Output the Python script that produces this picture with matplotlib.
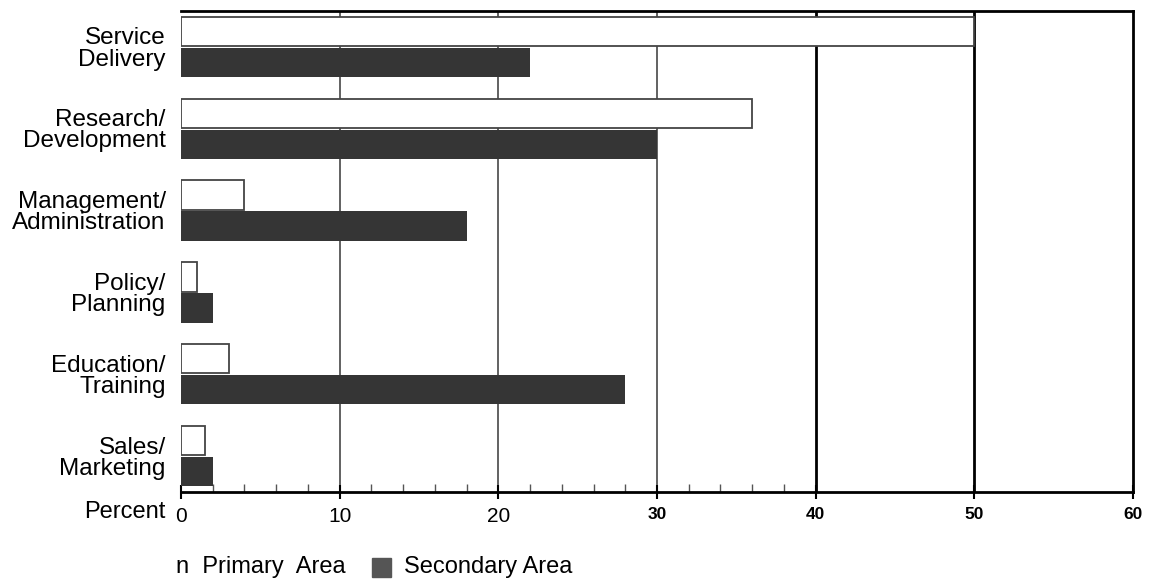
import matplotlib
matplotlib.use('Agg')
from matplotlib import pyplot as plt
from matplotlib.patches import Rectangle
import numpy as np

categories = ['Service\nDelivery', 'Research/\nDevelopment', 'Management/\nAdministration',
              'Policy/\nPlanning', 'Education/\nTraining', 'Sales/\nMarketing']
primary = [50, 36, 4, 1, 3, 1.5]
secondary = [22, 30, 18, 2, 28, 2]
x_ticks = [0, 10, 20, 30, 40, 50, 60]
x_labels = ['0', '10', '20', '30', '40', '50', '60']

plt.rcParams['font.family'] = ['Liberation Sans', 'DejaVu Sans']

fig = plt.figure(figsize=(11.52, 5.85), dpi=100)
ax = fig.add_axes([181 / 1152, 1 - 492 / 585, (1133 - 181) / 1152, (492 - 11) / 585])

y = np.arange(len(categories))
h = 0.36
off = 0.19

# grid lines first so the bars sit over them
for v in [10, 20, 30]:
    ax.axvline(v, color='#555555', lw=1.3, zorder=1)
for v in [40, 50]:
    ax.axvline(v, color='black', lw=2, zorder=1)

ax.barh(y - off, primary, height=h, color='white', edgecolor='#444444', lw=1.3, zorder=2,
        label='Primary Area')
ax.barh(y + off, secondary, height=h, color='#353535', edgecolor='none', zorder=2,
        label='Secondary Area')

ax.set_xlim(0, 60)
ax.set_ylim(len(categories) - 0.56, -0.44)

ax.set_yticks(y)
ax.set_yticklabels(categories, fontsize=17.5, linespacing=0.95)
ax.tick_params(axis='y', length=0, pad=11)

ax.set_xticks(x_ticks)
ax.set_xticklabels(x_labels)
ax.set_xticks([v for v in range(2, 40, 2) if v % 10], minor=True)
ax.tick_params(axis='x', which='major', direction='inout', length=10, width=1.5, pad=6)
ax.tick_params(axis='x', which='minor', direction='in', length=6, width=1, color='#555555')
for lbl in ax.get_xticklabels():
    if lbl.get_text() in ('0', '10', '20'):
        lbl.set_fontsize(15)
        lbl.set_family(['Liberation Sans Narrow', 'Liberation Sans'])
    else:
        lbl.set_fontsize(12.5)
        lbl.set_fontweight('bold')

for s in ['top', 'right']:
    ax.spines[s].set_linewidth(2)
ax.spines['bottom'].set_linewidth(2)
ax.spines['left'].set_visible(False)

fig.text(165 / 1152, 1 - 512 / 585, 'Percent', ha='right', va='center', fontsize=17)

# legend along the bottom
fig.text(176 / 1152, 1 - 567 / 585, 'n  Primary  Area', ha='left', va='center', fontsize=17)
fig.patches.append(Rectangle((372 / 1152, 1 - 577 / 585), 19 / 1152, 19 / 585,
                             transform=fig.transFigure, color='#555555'))
fig.text(404 / 1152, 1 - 567 / 585, 'Secondary Area', ha='left', va='center', fontsize=17)

fig.savefig('out.png', dpi=100)
